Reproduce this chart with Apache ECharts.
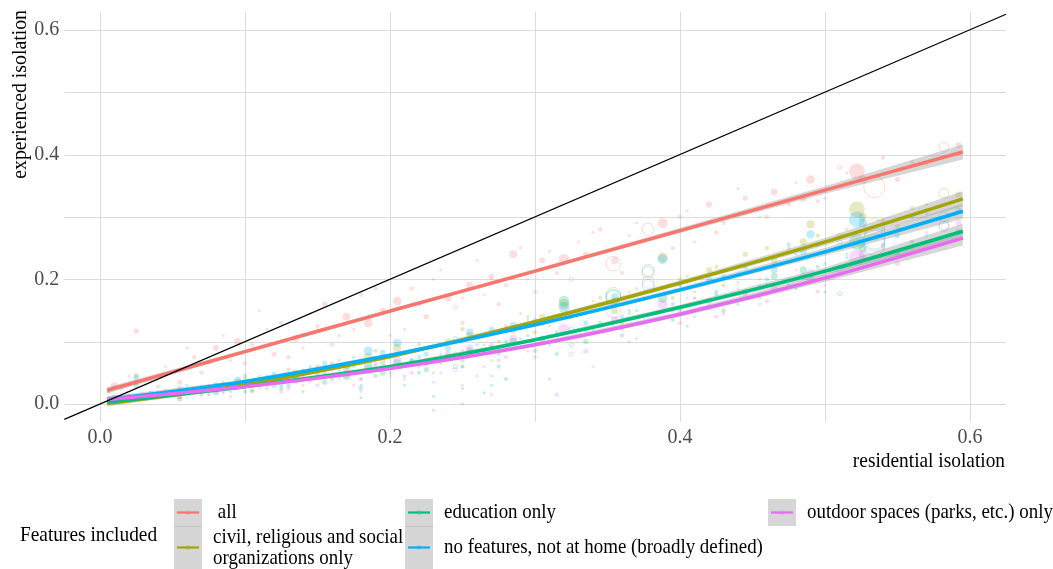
<!DOCTYPE html>
<html><head><meta charset="utf-8">
<script src="https://cdn.jsdelivr.net/npm/echarts@6/dist/echarts.min.js"></script>
<style>html,body{margin:0;padding:0;background:#fff}#c{width:1053px;height:569px}</style>
</head><body><div id="c"></div>
<script>
// ---------- data ----------
const seriesNames = ['all', 'civil, religious and social organizations only', 'education only',
  'no features, not at home (broadly defined)', 'outdoor spaces (parks, etc.) only'];
const legendLabels = [' all', 'civil, religious and social\norganizations only', 'education only',
  'no features, not at home (broadly defined)', 'outdoor spaces (parks, etc.) only'];
const seriesColors = ['#F8766D', '#A3A500', '#00BF7D', '#00B0F6', '#E76BF3'];

const xTitle = 'residential isolation';
const yTitle = 'experienced isolation';
const legendTitle = 'Features included';
const tickValues = [0, 0.2, 0.4, 0.6];
const gridValues = [0, 0.1, 0.2, 0.3, 0.4, 0.5, 0.6];

// places (one point per place in every series)
const placeX = [
  .006,.010,.015,.025,.035,.045,.055,.065,.075,.080,
  .090,.095,.105,.110,.120,.125,.135,.140,.150,.155,
  .165,.170,.180,.185,.195,.205,.210,.215,.225,.230,
  .240,.245,.255,.265,.270,.280,.285,.295,.305,.315,
  .320,.330,.335,.345,.354,.355,.365,.378,.388,.400,
  .410,.420,.430,.445,.455,.465,.475,.485,.490,.500,
  .510,.522,.526,.534,.550,.560,.582,.592,
  .020,.040,.060,.070,.085,.100,.115,.130,.145,.160,
  .175,.190,.200,.220,.235,.250,.260,.275,.290,.300,
  .310,.325,.340,.360,.370,.395,.405,.425,.440,.460,
  .480,.495,.515,.540,.570,.180,.250,.270];
const placePop = [
  2,5,1,3,2,1,3,2,1,4,
  1,6,2,1,3,2,5,1,2,3,
  1,7,2,9,4,8,1,2,3,1,
  5,2,6,1,3,2,7,1,4,2,
  13,1,3,2,24,6,1,16,11,2,
  1,4,2,3,1,5,2,6,8,1,
  2,28,7,50,3,2,11,4,
  1,2,1,2,1,2,1,2,1,2,
  1,2,1,2,1,2,1,2,1,2,
  1,2,1,2,1,2,1,2,1,2,
  1,2,1,2,1,1,1,1];
const placeHollow = [
  0,0,0,0,0,0,0,0,0,0,
  0,0,0,0,0,0,0,0,0,0,
  0,0,0,0,0,0,0,0,0,0,
  0,1,0,0,0,0,0,0,0,0,
  0,0,0,0,1,0,0,1,0,0,
  0,0,0,0,0,0,0,0,0,0,
  1,0,0,1,0,0,1,0,
  0,0,0,0,0,0,0,0,0,0,
  0,0,0,0,0,0,0,0,0,0,
  0,1,0,0,0,0,0,0,0,0,
  0,0,0,0,0,0,0,0];

const yAll = [
  .020,.030,.025,.117,.040,.060,.035,.075,.065,.090,
  .070,.100,.095,.150,.080,.130,.105,.090,.125,.160,
  .110,.140,.175,.130,.150,.165,.120,.185,.140,.200,
  .170,.155,.190,.175,.205,.190,.240,.200,.230,.210,
  .232,.260,.240,.280,.225,.230,.270,.280,.290,.300,
  .260,.320,.290,.330,.300,.340,.320,.330,.360,.330,
  .380,.373,.360,.348,.360,.388,.412,.415,
  .045,.028,.090,.050,.110,.065,.120,.075,.145,.095,
  .120,.185,.110,.160,.215,.130,.230,.160,.250,.180,
  .245,.200,.275,.210,.290,.250,.310,.275,.345,.300,
  .355,.325,.370,.395,.385,.135,.170,.200];
const yCivil = [
  .002,.004,.006,.045,.010,.020,.012,.025,.015,.030,
  .028,.035,.020,.045,.040,.038,.050,.030,.060,.045,
  .070,.058,.065,.075,.068,.090,.060,.085,.070,.050,
  .100,.080,.110,.095,.115,.125,.120,.135,.140,.110,
  .160,.150,.120,.170,.175,.150,.180,.211,.235,.200,
  .180,.215,.190,.240,.200,.230,.250,.260,.288,.245,
  .270,.312,.300,.280,.285,.314,.338,.336,
  .008,.015,.018,.028,.020,.040,.030,.055,.040,.065,
  .050,.085,.060,.095,.065,.120,.085,.100,.145,.115,
  .125,.140,.165,.130,.185,.170,.205,.220,.195,.250,
  .230,.270,.280,.295,.320,.040,.060,.070];
const yEdu = [
  .004,.006,.010,.030,.012,.018,.008,.020,.025,.018,
  .030,.028,.022,.035,.030,.025,.040,.020,.048,.035,
  .055,.045,.025,.062,.050,.065,.030,.070,.055,.012,
  .075,.060,.085,.018,.090,.040,.100,.110,.105,.080,
  .165,.120,.100,.130,.172,.172,.145,.190,.170,.150,
  .140,.165,.150,.180,.170,.205,.190,.215,.200,.180,
  .177,.260,.250,.255,.240,.260,.285,.276,
  .012,.010,.025,.015,.035,.020,.045,.030,.055,.040,
  .060,.045,.075,.050,.080,.070,.095,.060,.120,.085,
  .040,.095,.120,.110,.150,.135,.125,.175,.160,.190,
  .185,.220,.235,.255,.270,.010,.025,.030];
const yNone = [
  .008,.010,.012,.043,.018,.015,.025,.022,.030,.028,
  .020,.038,.030,.040,.048,.030,.045,.055,.052,.065,
  .050,.062,.070,.085,.082,.098,.045,.070,.080,-.010,
  .090,.105,.115,.085,.120,.100,.125,.140,.130,.115,
  .155,.145,.130,.160,.170,.165,.150,.214,.232,.190,
  .170,.200,.205,.220,.190,.215,.256,.245,.272,.225,
  .260,.296,.290,.265,.270,.300,.300,.310,
  .015,.012,.030,.020,.025,.045,.025,.040,.060,.045,
  .075,.060,.050,.075,.095,.060,.110,.080,.105,.135,
  .095,.120,.150,.140,.175,.160,.195,.180,.210,.200,
  .240,.255,.240,.280,.305,.030,.000,.045];
const yOutdoor = [
  .006,.009,.008,.035,.010,.022,.012,.018,.015,.022,
  .012,.030,.030,.025,.035,.020,.038,.045,.030,.050,
  .040,.048,.040,.055,.060,.070,.040,.050,.065,.035,
  .080,.055,.090,.060,.095,.075,.105,.085,.100,.015,
  .120,.110,.085,.125,.150,.135,.100,.195,.160,.130,
  .170,.155,.145,.175,.160,.185,.200,.205,.210,.190,
  .215,.235,.240,.262,.225,.250,.288,.290,
  .005,.018,.010,.025,.018,.035,.040,.025,.035,.055,
  .030,.065,.045,.060,.050,.085,.045,.070,.090,.075,
  .110,.080,.060,.120,.105,.150,.170,.140,.185,.165,
  .215,.180,.225,.250,.275,.020,.030,.015];

// fitted curves and standard errors
const fitX = [0.005, 0.1, 0.2, 0.3, 0.4, 0.5, 0.595];
const fitAll     = [0.022, 0.084, 0.149, 0.213, 0.278, 0.343, 0.404];
const fitCivil   = [0.001, 0.031, 0.076, 0.132, 0.194, 0.260, 0.329];
const fitEdu     = [0.003, 0.028, 0.060, 0.103, 0.155, 0.213, 0.277];
const fitNone    = [0.007, 0.036, 0.078, 0.127, 0.183, 0.244, 0.309];
const fitOutdoor = [0.007, 0.028, 0.057, 0.095, 0.144, 0.202, 0.266];
const fitSE      = [0.005, 0.003, 0.003, 0.003, 0.004, 0.006, 0.012];

const X_MIN = -0.0246, X_MAX = 0.6248, Y_MIN = -0.0284, Y_MAX = 0.629;

// ---------- build ----------
const yBySeries = [yAll, yCivil, yEdu, yNone, yOutdoor];
const fitBySeries = [fitAll, fitCivil, fitEdu, fitNone, fitOutdoor];
const FONT = '"Liberation Serif", "DejaVu Serif", serif';
const SMOOTH = 0.3;

function rgba(hex, a) {
  const n = parseInt(hex.slice(1), 16);
  return 'rgba(' + (n >> 16) + ',' + ((n >> 8) & 255) + ',' + (n & 255) + ',' + a + ')';
}

const series = [];
// grid lines
series.push({
  type: 'custom', z: 0, silent: true, clip: false,
  data: gridValues.map(v => [v, 0]), encode: { x: 0, y: 1 },
  renderItem: (params, api) => {
    const cs = params.coordSys;
    const px = Math.round(api.coord([api.value(0), 0])[0]) + 0.5;
    return { type: 'line', shape: { x1: px, y1: cs.y, x2: px, y2: cs.y + cs.height },
      style: { stroke: '#dcdcdc', lineWidth: 1 } };
  }
});
series.push({
  type: 'custom', z: 0, silent: true, clip: false,
  data: gridValues.map(v => [0, v]), encode: { x: 0, y: 1 },
  renderItem: (params, api) => {
    const cs = params.coordSys;
    const py = Math.round(api.coord([0, api.value(1)])[1]) + 0.5;
    return { type: 'line', shape: { x1: cs.x, y1: py, x2: cs.x + cs.width, y2: py },
      style: { stroke: '#dcdcdc', lineWidth: 1 } };
  }
});
// scatter points
yBySeries.forEach((ys, s) => {
  series.push({
    type: 'scatter', name: seriesNames[s], z: 1, silent: true,
    symbolSize: v => 3 * Math.sqrt(v[2]),
    data: placeX.map((x, i) => ({
      value: [x, ys[i], placePop[i]],
      itemStyle: placeHollow[i]
        ? { color: 'rgba(0,0,0,0)', borderColor: rgba(seriesColors[s], 0.35), borderWidth: 1 }
        : { color: rgba(seriesColors[s], 0.3), borderWidth: 0 }
    }))
  });
});
// confidence bands
fitBySeries.forEach((fit, s) => {
  series.push({
    type: 'custom', z: 2, silent: true,
    data: [[fitX[0], fit[0]]], encode: { x: 0, y: 1 },
    renderItem: (params, api) => {
      const up = [], lo = [];
      for (let i = 0; i < fitX.length; i++) {
        up.push(api.coord([fitX[i], fit[i] + fitSE[i]]));
        lo.push(api.coord([fitX[i], fit[i] - fitSE[i]]));
      }
      return { type: 'polygon', shape: { points: up.concat(lo.reverse()) },
        style: { fill: 'rgba(153,153,153,0.4)' } };
    }
  });
});
// fitted lines
fitBySeries.forEach((fit, s) => {
  series.push({
    type: 'line', name: seriesNames[s], z: 3, silent: true, showSymbol: false, smooth: SMOOTH,
    data: fitX.map((x, i) => [x, fit[i]]),
    lineStyle: { color: seriesColors[s], width: 3.5 }, itemStyle: { color: seriesColors[s] }
  });
});
// identity line
series.push({
  type: 'line', z: 4, silent: true, showSymbol: false,
  data: [[X_MIN, X_MIN], [X_MAX, X_MAX]],
  lineStyle: { color: '#000', width: 1.2 }
});

// legend + titles as graphic
const graphic = [];
graphic.push({ type: 'text', x: 20, y: 10, rotation: Math.PI / 2, scaleX: 0.9,
  style: { text: yTitle, fontSize: 22, fontFamily: FONT, fill: '#000', align: 'right', verticalAlign: 'middle' } });
graphic.push({ type: 'text', x: 1005, y: 461, scaleX: 0.88,
  style: { text: xTitle, fontSize: 22, fontFamily: FONT, fill: '#000', align: 'right', verticalAlign: 'middle' } });
graphic.push({ type: 'text', x: 20, y: 535, scaleX: 0.88,
  style: { text: legendTitle, fontSize: 22, fontFamily: FONT, fill: '#000', align: 'left', verticalAlign: 'middle' } });

const legendCols = [{ x: 174, items: [0, 1] }, { x: 405, items: [2, 3] }, { x: 768, items: [4] }];
const legendRows = [{ y: 499, h: 27 }, { y: 526, h: 43 }];
legendCols.forEach(col => {
  col.items.forEach((s, r) => {
    const row = legendRows[r];
    const mid = row.y + row.h / 2;
    graphic.push({ type: 'rect', shape: { x: col.x, y: row.y, width: 28, height: row.h },
      style: { fill: '#d6d6d6' } });
    if (r > 0) graphic.push({ type: 'line', shape: { x1: col.x, y1: row.y + 0.5, x2: col.x + 28, y2: row.y + 0.5 },
      style: { stroke: '#c2c2c2', lineWidth: 1 } });
    graphic.push({ type: 'line', shape: { x1: col.x + 3, y1: mid, x2: col.x + 25, y2: mid },
      style: { stroke: seriesColors[s], lineWidth: 2.2 } });
    graphic.push({ type: 'circle', shape: { cx: col.x + 14, cy: mid, r: 2.5 },
      style: { fill: rgba(seriesColors[s], 0.25) } });
    graphic.push({ type: 'text', x: col.x + 39, y: mid, scaleX: 0.86,
      style: { text: legendLabels[s], fontSize: 22, lineHeight: 21, fontFamily: FONT, fill: '#000',
        align: 'left', verticalAlign: 'middle' } });
  });
});

const chart = echarts.init(document.getElementById('c'), null, { renderer: 'canvas' });
chart.setOption({
  animation: false,
  backgroundColor: '#fff',
  grid: { left: 64.3, right: 47, top: 11.7, bottom: 147.3, containLabel: false },
  xAxis: {
    type: 'value', min: X_MIN, max: X_MAX,
    splitLine: { show: false }, axisLine: { show: false }, axisTick: { show: false },
    axisLabel: { customValues: tickValues, formatter: v => Number(v).toFixed(1), color: '#4d4d4d',
      fontSize: 20, fontFamily: FONT, margin: 6 }
  },
  yAxis: {
    type: 'value', min: Y_MIN, max: Y_MAX,
    splitLine: { show: false }, axisLine: { show: false }, axisTick: { show: false },
    axisLabel: { customValues: tickValues, formatter: v => Number(v).toFixed(1), color: '#4d4d4d',
      fontSize: 20, fontFamily: FONT, margin: 5 }
  },
  series: series,
  graphic: graphic
});
</script></body></html>
